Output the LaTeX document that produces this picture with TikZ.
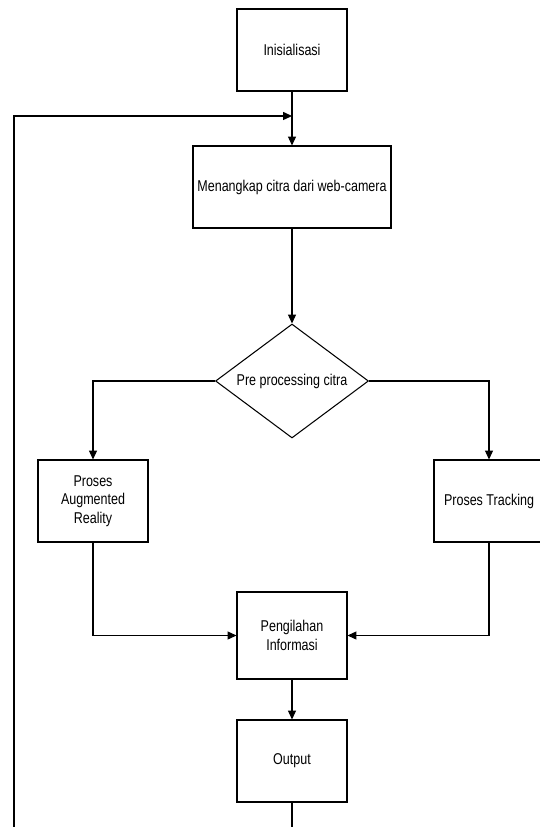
\documentclass[tikz,border=0pt]{standalone}
\usepackage{fontspec}
\setmainfont{Liberation Sans}[FakeStretch=0.8]
\usetikzlibrary{shapes,arrows,positioning,calc,arrows.meta}

\begin{document}
\begin{tikzpicture}[x=0.02cm, y=-0.02cm,
    every node/.style={font=\fontsize{8.9}{10.5}\selectfont},
    box/.style={draw, rectangle, minimum width=2.2cm, minimum height=1.64cm, align=center, inner sep=0pt, line width=0.6pt},
    decision/.style={draw, diamond, aspect=1.34, minimum width=3.06cm, minimum height=2.28cm, inner sep=0pt, line width=0.6pt},
    flow/.style={-{Triangle[length=5pt,width=4.5pt]}, line width=0.6pt}]
    \useasboundingbox (0,0) rectangle (540,827);
    % Flowchart blocks
    \node[box] (init) at (292,50) {Inisialisasi};
    \node[box, minimum width=3.96cm] (capture) at (292,187) {Menangkap citra dari web-camera};
    \node[decision] (preproc) at (292,381) {Pre processing citra};
    \node[box] (ar) at (93,501) {Proses\\Augmented\\Reality};
    \node[box] (track) at (489,501) {Proses Tracking};
    \node[box, minimum height=1.74cm] (info) at (292,635.5) {Pengilahan\\Informasi};
    \node[box] (out) at (292,761) {Output};
    % Loop points
    \coordinate (join) at (292,116);
    \coordinate (bottom) at (292,840);
    \coordinate (corner) at (14,840);
    \coordinate (turn) at (14,116);
    % Connectors
    \draw[flow] (init) -- (capture);
    \draw[flow] (capture) -- (preproc);
    \draw[flow] (preproc.west) -| (ar);
    \draw[flow] (preproc.east) -| (track);
    \draw[flow] (ar) |- (info);
    \draw[flow] (track) |- (info);
    \draw[flow] (info) -- (out);
    \draw[flow] (out) -- (bottom) -- (corner) -- (turn) -- (join);
\end{tikzpicture}
\end{document}
